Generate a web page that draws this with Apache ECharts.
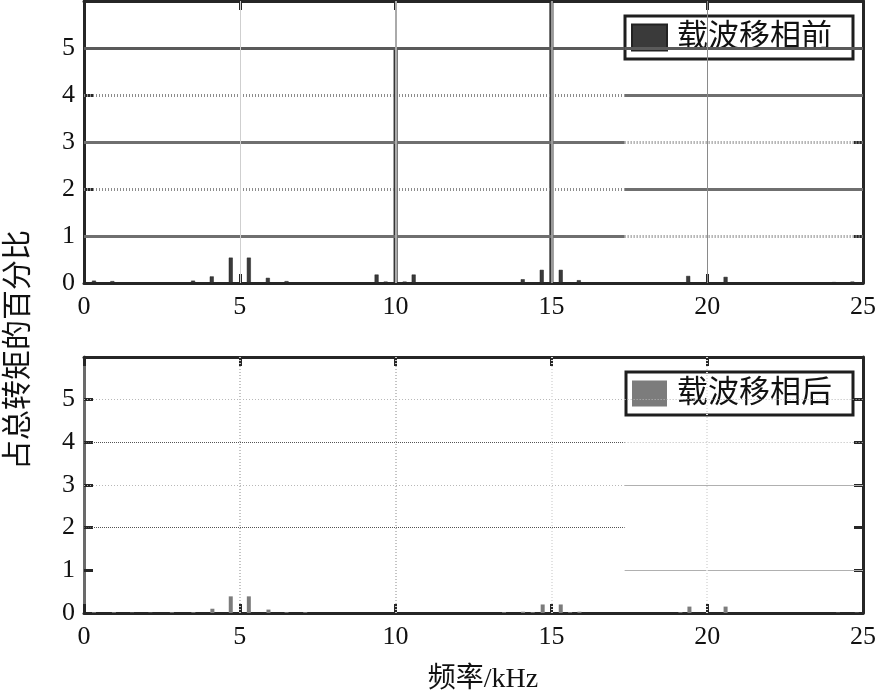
<!DOCTYPE html>
<html>
<head>
<meta charset="utf-8">
<script src="https://cdn.jsdelivr.net/npm/echarts@6/dist/echarts.min.js"></script>
<style>html,body{margin:0;padding:0;background:#fff}#c{width:879px;height:695px}</style>
</head>
<body>
<div id="c"></div>
<script>
// ---- data ----
const seriesNames = ['载波移相前', '载波移相后'];
const xTicks = [0, 5, 10, 15, 20, 25];
const yTicks = [0, 1, 2, 3, 4, 5];
const upperFreq = [0.32, 0.91, 3.50, 4.10, 4.71, 5.29, 5.90, 6.50, 9.39, 9.68, 10.00, 10.29, 10.58, 14.08, 14.69, 15.00, 15.30, 15.88, 19.39, 20.59, 24.07, 24.66];
const upperVal  = [0.05, 0.04, 0.05, 0.14, 0.54, 0.54, 0.11, 0.04, 0.18, 0.03, 5.00, 0.03, 0.18, 0.08, 0.28, 6.00, 0.28, 0.06, 0.15, 0.13, 0.02, 0.03];
const lowerFreq = [0.32, 0.96, 1.54, 2.13, 2.82, 3.51, 4.12, 4.71, 5.29, 5.92, 6.50, 7.10, 13.48, 14.09, 14.40, 14.72, 15.30, 15.60, 15.90, 19.14, 19.43, 20.59, 24.20, 24.80];
const lowerVal  = [0.02, 0.02, 0.01, 0.01, 0.02, 0.02, 0.10, 0.39, 0.39, 0.08, 0.02, 0.02, 0.02, 0.03, 0.02, 0.20, 0.20, 0.02, 0.03, 0.02, 0.15, 0.15, 0.01, 0.01];
const xLabel = '频率/kHz';
const yLabel = '占总转矩的百分比';

// ---- build ----
const xMin = xTicks[0], xMax = xTicks[xTicks.length - 1];
const splitX = 17.35; // scan artefact where grid style changes
const serifFont = '"Liberation Serif", "Times New Roman", "Noto Sans CJK SC", serif';

function seg(x0, y0, x1, y1, style) {
  return [{coord: [x0, y0], lineStyle: style}, {coord: [x1, y1]}];
}
const S = {
  uSolid: {color: '#6f6f6f', width: 3, type: 'solid'},
  uDot: {color: '#8c8c8c', width: 3, type: [1, 2]},
  uTop: {color: '#5a5a5a', width: 3, type: 'solid'},
  lDotDark: {color: '#555', width: 1, type: [1, 1]},
  lDotLight: {color: '#b8b8b8', width: 1, type: [1, 2]},
  lSolidLight: {color: '#b0b0b0', width: 1, type: 'solid'},
};
const upperStyleL = [null, S.uSolid, S.uDot, S.uSolid, S.uDot, S.uTop];
const upperStyleR = [null, S.uDot, S.uSolid, S.uDot, S.uSolid, S.uTop];
const lowerStyleL = [null, null, S.lDotDark, S.lDotLight, S.lDotDark, S.lDotLight];
const lowerStyleR = [null, S.lSolidLight, null, S.lSolidLight, S.lDotLight, S.lDotLight];

function gridLines(styleL, styleR, vStyles) {
  const out = [];
  yTicks.forEach((y, i) => {
    if (styleL[i]) out.push(seg(xMin, y, splitX, y, styleL[i]));
    if (styleR[i]) out.push(seg(splitX, y, xMax, y, styleR[i]));
  });
  xTicks.forEach((x, i) => {
    if (vStyles[i]) out.push(seg(x, 0, x, 6, vStyles[i]));
  });
  return out;
}
const upperV = [null, {color: '#cfcfcf', width: 1, type: 'solid'}, {color: '#aaa', width: 2, type: 'solid'}, {color: '#999', width: 2, type: 'solid'}, {color: '#8a8a8a', width: 1, type: 'solid'}, null];
const lowerV = [null, {color: '#c4c4c4', width: 2, type: [1, 2]}, {color: '#c4c4c4', width: 2, type: [1, 2]}, {color: '#e2e2e2', width: 2, type: [1, 2]}, {color: '#e2e2e2', width: 2, type: [1, 2]}, null];

const frame = '#262626';
function xAx(gi, pos, showLabel) {
  return {
    type: 'value', gridIndex: gi, position: pos, min: xMin, max: xMax, interval: 5,
    axisLine: {show: true, onZero: false, lineStyle: {color: frame, width: 3}},
    axisTick: {show: true, inside: true, length: 9, lineStyle: {color: frame, width: 3}},
    axisLabel: {show: showLabel, margin: 11, fontSize: 26, color: '#111', fontFamily: serifFont},
    splitLine: {show: false}
  };
}
function yAx(gi, pos, showLabel, lineColor) {
  return {
    type: 'value', gridIndex: gi, position: pos, min: 0, max: 6, interval: 1,
    axisLine: {show: true, onZero: false, lineStyle: {color: lineColor || frame, width: 3}},
    axisTick: {show: true, inside: true, length: 9, lineStyle: {color: frame, width: 3}},
    axisLabel: {show: showLabel, showMaxLabel: false, margin: 9, fontSize: 26, color: '#111', fontFamily: serifFont},
    splitLine: {show: false}
  };
}
function legendAt(name, left, top) {
  return {data: [name], left: left, top: top, orient: 'vertical', itemWidth: 35, itemHeight: 26,
    padding: [6, 21, 6, 6], itemGap: 0, borderColor: '#1e1e1e', borderWidth: 3, backgroundColor: '#fff',
    textStyle: {fontSize: 31, lineHeight: 31, color: '#111', fontFamily: serifFont, padding: [0, 0, 0, 5]},
    icon: 'rect', selectedMode: false};
}

const chart = echarts.init(document.getElementById('c'), null, {renderer: 'canvas'});
chart.setOption({
  animation: false,
  backgroundColor: '#fff',
  grid: [
    {left: 84, top: 1, width: 784, height: 282},
    {left: 84, top: 357, width: 784, height: 256}
  ],
  xAxis: [xAx(0, 'bottom', true), xAx(0, 'top', false), xAx(1, 'bottom', true), xAx(1, 'top', false)],
  yAxis: [yAx(0, 'left', true), yAx(0, 'right', false), yAx(1, 'left', true, '#6a6a6a'), yAx(1, 'right', false)],
  legend: [legendAt(seriesNames[0], 625, 16), legendAt(seriesNames[1], 626, 372)],
  graphic: [
    {type: 'text', x: 19, y: 350, rotation: Math.PI / 2,
     style: {text: yLabel, fontSize: 30, fill: '#111', fontFamily: serifFont, align: 'center', verticalAlign: 'middle'}},
    {type: 'text', x: 483, y: 680,
     style: {text: xLabel, fontSize: 28, fill: '#111', fontFamily: serifFont, align: 'center', verticalAlign: 'middle'}}
  ],
  series: [
    {type: 'line', xAxisIndex: 0, yAxisIndex: 0, data: [], z: 1, silent: true,
     markLine: {silent: true, symbol: ['none', 'none'], label: {show: false}, animation: false,
                data: gridLines(upperStyleL, upperStyleR, upperV)}},
    {type: 'line', xAxisIndex: 2, yAxisIndex: 2, data: [], z: 1, silent: true,
     markLine: {silent: true, symbol: ['none', 'none'], label: {show: false}, animation: false,
                data: gridLines(lowerStyleL, lowerStyleR, lowerV)}},
    {name: seriesNames[0], type: 'bar', xAxisIndex: 0, yAxisIndex: 0, z: 3, barWidth: 4,
     itemStyle: {color: '#3a3a3a', borderColor: '#222', borderWidth: 0.5},
     data: upperFreq.map((f, i) => [f, upperVal[i]])},
    {name: seriesNames[1], type: 'bar', xAxisIndex: 2, yAxisIndex: 2, z: 3, barWidth: 4,
     itemStyle: {color: '#7c7c7c'},
     data: lowerFreq.map((f, i) => [f, lowerVal[i]])}
  ]
});
</script>
</body>
</html>
